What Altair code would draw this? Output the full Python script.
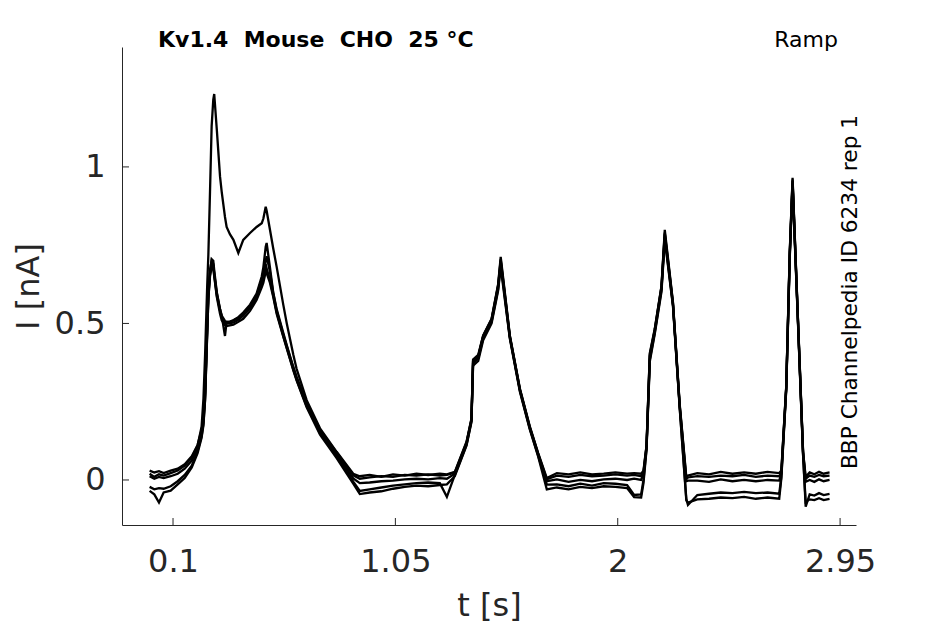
import altair as alt
import pandas as pd

# ---- data (time in s, current in nA) ----
t_s = [
    0.000, 0.020, 0.040, 0.060, 0.090, 0.120, 0.150, 0.180, 0.205, 0.222,
    0.230, 0.237, 0.246, 0.251, 0.258, 0.265, 0.272, 0.276, 0.287, 0.301,
    0.308, 0.322, 0.329, 0.343, 0.358, 0.379, 0.400, 0.429, 0.457, 0.479,
    0.486, 0.496, 0.500, 0.514, 0.528, 0.543, 0.571, 0.586, 0.614, 0.628,
    0.671, 0.728, 0.799, 0.870, 0.898, 0.940, 0.990, 1.040, 1.090, 1.140,
    1.190, 1.240, 1.270, 1.304, 1.354, 1.375, 1.382, 1.404, 1.425, 1.461,
    1.489, 1.500, 1.539, 1.582, 1.624, 1.660, 1.697, 1.740, 1.790, 1.840,
    1.890, 1.940, 1.990, 2.040, 2.070, 2.100, 2.110, 2.123, 2.137, 2.158,
    2.187, 2.201, 2.236, 2.265, 2.293, 2.300, 2.340, 2.390, 2.440, 2.490,
    2.540, 2.590, 2.640, 2.690, 2.699, 2.720, 2.735, 2.747, 2.770, 2.792,
    2.803, 2.820, 2.840, 2.860, 2.880, 2.905,
]

rep_h = [
    0.020, 0.010, 0.018, 0.014, 0.022, 0.030, 0.046, 0.072, 0.110, 0.170,
    0.260, 0.400, 0.620, 0.720, 0.920, 1.130, 1.215, 1.233, 1.120, 0.968,
    0.920, 0.840, 0.808, 0.785, 0.767, 0.725, 0.767, 0.789, 0.808, 0.820,
    0.835, 0.873, 0.860, 0.800, 0.740, 0.680, 0.560, 0.500, 0.400, 0.355,
    0.255, 0.165, 0.090, 0.020, 0.012, 0.016, 0.010, 0.018, 0.014, 0.020,
    0.016, 0.020, 0.018, 0.026, 0.122, 0.196, 0.385, 0.400, 0.462, 0.515,
    0.625, 0.713, 0.462, 0.292, 0.172, 0.086, 0.006, 0.022, 0.018, 0.024,
    0.018, 0.020, 0.024, 0.020, 0.022, 0.020, 0.030, 0.110, 0.405, 0.482,
    0.620, 0.799, 0.568, 0.240, 0.010, 0.014, 0.022, 0.018, 0.026, 0.020,
    0.024, 0.020, 0.026, 0.022, 0.030, 0.300, 0.730, 0.965, 0.515, 0.090,
    0.010, 0.024, 0.018, 0.026, 0.020, 0.024,
]

rep_a = [
    0.030, 0.024, 0.028, 0.022, 0.030, 0.036, 0.050, 0.076, 0.112, 0.160,
    0.200, 0.280, 0.490, 0.600, 0.670, 0.700, 0.690, 0.660, 0.597, 0.545,
    0.525, 0.508, 0.505, 0.505, 0.510, 0.520, 0.535, 0.560, 0.595, 0.650,
    0.680, 0.745, 0.757, 0.680, 0.600, 0.545, 0.470, 0.430, 0.361, 0.330,
    0.245, 0.160, 0.088, 0.015, 0.004, 0.008, 0.012, 0.010, 0.016, 0.014,
    0.018, 0.014, 0.016, 0.024, 0.120, 0.194, 0.383, 0.396, 0.460, 0.513,
    0.622, 0.705, 0.460, 0.290, 0.170, 0.084, 0.002, 0.014, 0.010, 0.016,
    0.012, 0.014, 0.018, 0.014, 0.016, 0.012, 0.026, 0.108, 0.400, 0.479,
    0.618, 0.790, 0.565, 0.236, 0.004, 0.008, 0.012, 0.010, 0.014, 0.012,
    0.016, 0.010, 0.014, 0.012, 0.024, 0.298, 0.726, 0.960, 0.512, 0.087,
    0.004, 0.014, 0.010, 0.016, 0.012, 0.014,
]

rep_b = [
    0.012, 0.004, 0.010, 0.006, 0.012, 0.020, 0.036, 0.062, 0.102, 0.150,
    0.190, 0.270, 0.480, 0.590, 0.660, 0.690, 0.685, 0.655, 0.590, 0.540,
    0.520, 0.502, 0.500, 0.500, 0.503, 0.512, 0.525, 0.550, 0.585, 0.630,
    0.650, 0.700, 0.715, 0.665, 0.597, 0.540, 0.465, 0.428, 0.358, 0.325,
    0.240, 0.155, 0.082, 0.005, -0.010, -0.008, -0.004, -0.002, 0.002, 0.004,
    0.002, 0.006, 0.004, 0.020, 0.117, 0.192, 0.380, 0.394, 0.458, 0.511,
    0.618, 0.700, 0.458, 0.288, 0.168, 0.082, -0.004, 0.002, -0.006, 0.000,
    -0.004, 0.002, 0.004, 0.000, 0.004, 0.000, 0.020, 0.106, 0.395, 0.476,
    0.615, 0.785, 0.562, 0.234, -0.004, -0.002, -0.002, -0.006, 0.002, -0.004,
    0.000, -0.004, 0.000, -0.002, 0.020, 0.296, 0.722, 0.955, 0.510, 0.084,
    -0.006, 0.000, -0.006, 0.002, -0.004, 0.000,
]

rep_c = [
    -0.022, -0.030, -0.026, -0.028, -0.020, -0.004, 0.016, 0.046, 0.092, 0.140,
    0.180, 0.260, 0.470, 0.580, 0.650, 0.680, 0.675, 0.650, 0.585, 0.530,
    0.510, 0.495, 0.492, 0.494, 0.496, 0.505, 0.515, 0.540, 0.575, 0.615,
    0.630, 0.665, 0.675, 0.640, 0.590, 0.535, 0.460, 0.422, 0.352, 0.320,
    0.235, 0.150, 0.075, -0.005, -0.035, -0.030, -0.024, -0.018, -0.014, -0.010,
    -0.008, -0.010, -0.054, 0.016, 0.112, 0.188, 0.372, 0.388, 0.452, 0.505,
    0.610, 0.690, 0.455, 0.285, 0.165, 0.078, -0.015, -0.014, -0.020, -0.012,
    -0.018, -0.010, -0.012, -0.016, -0.048, -0.046, 0.000, 0.100, 0.385, 0.470,
    0.608, 0.775, 0.558, 0.230, -0.060, -0.080, -0.048, -0.044, -0.040, -0.042,
    -0.038, -0.042, -0.040, -0.044, 0.010, 0.292, 0.716, 0.948, 0.506, 0.080,
    -0.085, -0.046, -0.050, -0.042, -0.048, -0.044,
]

rep_d = [
    -0.035, -0.046, -0.072, -0.040, -0.034, -0.014, 0.006, 0.040, 0.086, 0.135,
    0.175, 0.255, 0.465, 0.580, 0.660, 0.705, 0.700, 0.670, 0.600, 0.545,
    0.525, 0.460, 0.505, 0.506, 0.510, 0.518, 0.530, 0.553, 0.590, 0.640,
    0.660, 0.690, 0.660, 0.630, 0.585, 0.530, 0.458, 0.420, 0.350, 0.318,
    0.232, 0.145, 0.070, -0.012, -0.045, -0.040, -0.036, -0.028, -0.022, -0.018,
    -0.020, -0.016, -0.014, 0.012, 0.110, 0.185, 0.365, 0.380, 0.446, 0.500,
    0.605, 0.680, 0.452, 0.282, 0.162, 0.075, -0.030, -0.024, -0.030, -0.022,
    -0.026, -0.020, -0.022, -0.026, -0.055, -0.056, -0.010, 0.096, 0.378, 0.465,
    0.602, 0.768, 0.555, 0.226, -0.065, -0.072, -0.062, -0.060, -0.056, -0.058,
    -0.054, -0.060, -0.056, -0.060, 0.005, 0.288, 0.710, 0.942, 0.502, 0.076,
    -0.070, -0.062, -0.064, -0.058, -0.064, -0.060,
]

rep_names = ["rep h", "rep a", "rep b", "rep c", "rep d"]
x_ticks = [0.1, 1.05, 2, 2.95]
y_ticks = [0, 0.5, 1]
NB = "\u00a0"
title_text = "Kv1.4" + NB + " Mouse" + NB + " CHO" + NB + " 25 °C"
protocol_text = "Ramp"
source_text = "BBP Channelpedia ID 6234 rep 1"

# ---- build long table ----
frames = []
for name, vals in zip(rep_names, [rep_h, rep_a, rep_b, rep_c, rep_d]):
    frames.append(pd.DataFrame({"t": t_s, "I": vals, "rep": name}))
df = pd.concat(frames, ignore_index=True)

W, H = 734, 478
FONT = "DejaVu Sans"
AX = "#262626"

xscale = alt.Scale(domain=[-0.118, 3.018], nice=False, zero=False)
yscale = alt.Scale(domain=[-0.1438, 1.383], nice=False, zero=False)

x_axis = alt.Axis(
    values=x_ticks, format=".3~g", tickSize=0, grid=False,
    domainColor=AX, domainWidth=1, labelColor=AX, labelFont=FONT,
    labelFontSize=32, labelPadding=21, labelFlush=False,
    title="t [s]", titleFont=FONT, titleFontSize=32,
    titleFontWeight="normal", titleColor=AX, titlePadding=13)
y_axis = alt.Axis(
    values=y_ticks, format=".3~g", tickSize=0, grid=False,
    domainColor=AX, domainWidth=1, labelColor=AX, labelFont=FONT,
    labelFontSize=32, labelPadding=17, labelFlush=False,
    title="I [nA]", titleFont=FONT, titleFontSize=32,
    titleFontWeight="normal", titleColor=AX, titlePadding=9)

lines = alt.Chart(df).mark_line(color="black", strokeWidth=2.3, clip=True).encode(
    x=alt.X("t:Q", scale=xscale, axis=x_axis),
    y=alt.Y("I:Q", scale=yscale, axis=y_axis),
    detail="rep:N",
    order="t:Q",
)

xt = alt.Chart(pd.DataFrame({"t": x_ticks})).mark_rule(color=AX, strokeWidth=1).encode(
    x=alt.X("t:Q", scale=xscale, axis=x_axis),
    y=alt.value(H), y2=alt.value(H - 7),
)
yt = alt.Chart(pd.DataFrame({"I": y_ticks})).mark_rule(color=AX, strokeWidth=1).encode(
    y=alt.Y("I:Q", scale=yscale, axis=y_axis),
    x=alt.value(0), x2=alt.value(7),
)

title_mark = alt.Chart(pd.DataFrame({"s": [title_text]})).mark_text(
    font=FONT, fontSize=22, fontWeight="bold", color="black",
    align="left", baseline="middle").encode(
    text="s:N", x=alt.value(36), y=alt.value(-7))

proto_mark = alt.Chart(pd.DataFrame({"s": [protocol_text]})).mark_text(
    font=FONT, fontSize=22, color="black",
    align="right", baseline="middle").encode(
    text="s:N", x=alt.value(716), y=alt.value(-7))

source_mark = alt.Chart(pd.DataFrame({"s": [source_text]})).mark_text(
    font=FONT, fontSize=21.7, color="black", angle=270,
    align="center", baseline="middle").encode(
    text="s:N", x=alt.value(728), y=alt.value(245))

chart = alt.layer(lines, xt, yt, title_mark, proto_mark, source_mark).properties(
    width=W, height=H,
    background="white",
    autosize=alt.AutoSizeParams(type="none"),
    padding={"left": 114, "top": 39, "right": 70, "bottom": 97},
).configure_view(strokeWidth=0)

chart.save("out.html", embed_options={"renderer": "svg", "actions": False})
